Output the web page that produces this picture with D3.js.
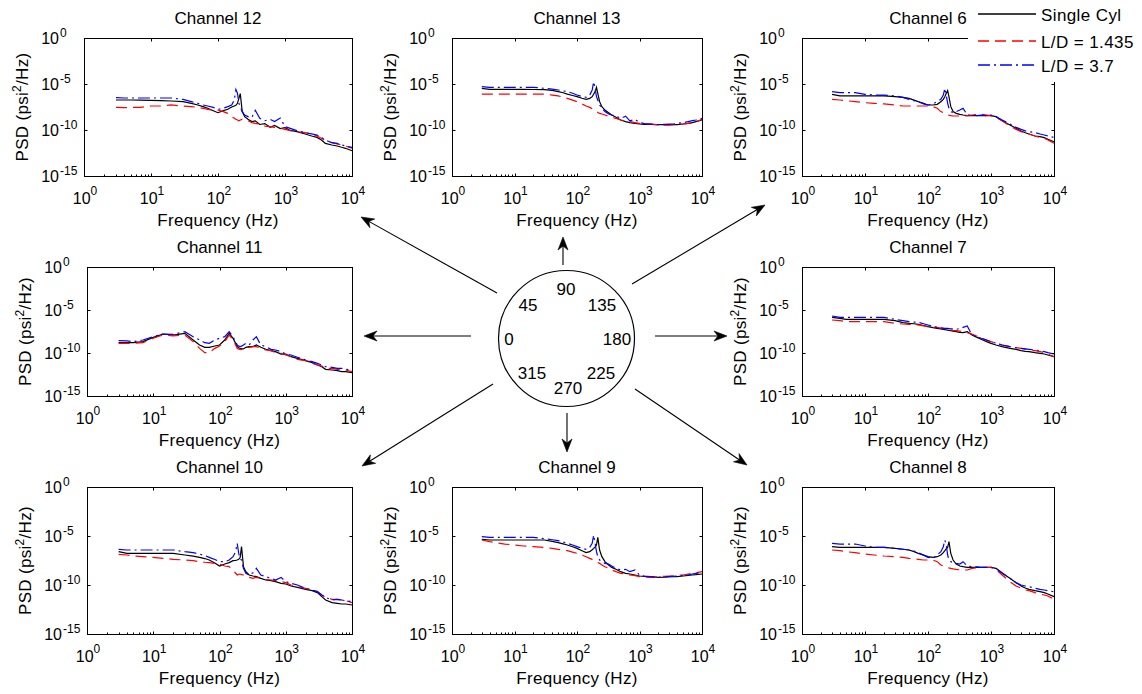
<!DOCTYPE html>
<html><head><meta charset="utf-8">
<script src="https://cdn.jsdelivr.net/npm/d3@7"></script>
<style>
body{margin:0;background:#fff}
svg{display:block}
text{font-family:"Liberation Sans",Arial,Helvetica,sans-serif;fill:#000}
</style>
</head><body>
<svg id="c" width="1142" height="694"></svg>
<script>
// ---------------- DATA ----------------
const freq = [3,4,5,7,10,14,20,30,40,50,60,70,85,100,120,140,160,175,185,195,205,215,230,250,280,320,360,420,500,600,700,850,1000,1200,1500,2000,2500,3000,3500,4000,5000,6000,7000,8000,10000];

const seriesNames = ["Single Cyl", "L/D = 1.435", "L/D = 3.7"];
const channelTitles = ["Channel 12","Channel 13","Channel 6","Channel 11","Channel 7","Channel 10","Channel 9","Channel 8"];
const xTickExps = [0,1,2,3,4];
const yTickExps = [0,-5,-10,-15];
const angleLabels = ["0","45","90","135","180","225","270","315"];
const xLabel = "Frequency (Hz)";

// log10(PSD) values at freq
const ch12_single = [-6.74,-6.74,-6.74,-6.76,-6.78,-6.8,-6.85,-6.92,-7.1,-7.28,-7.46,-7.64,-7.9,-8.12,-7.9,-7.75,-7.5,-7.39,-7.32,-7.1,-6.56,-6.05,-8.0,-8.55,-8.84,-9.09,-9.0,-9.4,-9.3,-9.7,-9.5,-9.85,-9.75,-10.05,-10.18,-10.43,-10.65,-10.8,-11.09,-11.45,-11.63,-11.74,-11.88,-11.99,-12.25];
const ch12_ld1435 = [-7.54,-7.57,-7.54,-7.54,-7.39,-7.39,-7.28,-7.39,-7.46,-7.54,-7.64,-7.75,-7.83,-7.83,-8.0,-8.19,-8.55,-8.73,-8.84,-8.91,-8.99,-8.91,-8.84,-8.91,-8.99,-9.2,-9.28,-9.35,-9.57,-9.64,-9.71,-9.82,-9.93,-10.07,-10.18,-10.29,-10.43,-10.65,-10.9,-11.16,-11.38,-11.52,-11.63,-11.74,-11.99];
const ch12_ld37 = [-6.49,-6.52,-6.52,-6.52,-6.52,-6.52,-6.52,-6.67,-6.92,-7.1,-7.28,-7.39,-7.54,-7.75,-7.64,-7.46,-7.28,-6.74,-5.6,-6.0,-7.1,-7.46,-8.0,-8.37,-8.55,-8.65,-7.85,-8.73,-8.99,-8.84,-9.09,-8.7,-9.64,-9.82,-10.07,-10.29,-10.43,-10.54,-10.8,-11.09,-11.38,-11.45,-11.63,-11.74,-11.88];

const ch13_single = [-5.47,-5.58,-5.58,-5.58,-5.58,-5.58,-5.6,-5.62,-5.7,-5.83,-5.95,-6.1,-6.25,-6.38,-6.55,-6.67,-6.56,-6.38,-6.09,-5.83,-5.36,-6.01,-6.92,-7.46,-7.83,-8.12,-8.37,-8.62,-8.91,-9.09,-9.2,-9.28,-9.35,-9.38,-9.38,-9.42,-9.42,-9.42,-9.42,-9.42,-9.35,-9.28,-9.2,-9.09,-8.91];
const ch13_ld1435 = [-6.09,-6.09,-6.09,-6.09,-6.09,-6.09,-6.09,-6.09,-6.2,-6.3,-6.42,-6.56,-6.75,-6.92,-7.17,-7.39,-7.54,-7.7,-7.83,-7.9,-8.0,-8.1,-8.19,-8.26,-8.37,-8.5,-8.62,-8.75,-8.91,-9.0,-9.09,-9.2,-9.28,-9.35,-9.35,-9.46,-9.46,-9.46,-9.42,-9.35,-9.35,-9.28,-9.2,-9.09,-8.84];
const ch13_ld37 = [-5.29,-5.36,-5.36,-5.36,-5.36,-5.36,-5.36,-5.47,-5.55,-5.65,-5.75,-5.83,-6.0,-6.2,-6.35,-6.45,-6.2,-5.65,-4.75,-5.47,-6.38,-6.74,-7.28,-7.64,-8.0,-8.26,-8.37,-8.48,-8.73,-8.5,-9.0,-8.84,-9.2,-9.3,-9.35,-9.42,-9.38,-9.35,-9.35,-9.28,-9.2,-9.09,-8.99,-8.91,-8.73];

const ch6_single = [-6.12,-6.3,-6.3,-6.3,-6.3,-6.3,-6.3,-6.38,-6.45,-6.56,-6.75,-6.92,-7.1,-7.28,-7.28,-7.21,-6.92,-6.67,-6.38,-6.01,-5.72,-6.38,-7.46,-8.0,-8.19,-8.3,-8.37,-8.44,-8.44,-8.44,-8.44,-8.44,-8.44,-8.55,-8.99,-9.46,-9.82,-10.11,-10.3,-10.43,-10.65,-10.72,-10.83,-11.01,-11.27];
const ch6_ld1435 = [-6.67,-6.74,-6.81,-6.92,-7.03,-7.1,-7.17,-7.28,-7.39,-7.39,-7.39,-7.39,-7.39,-7.39,-7.46,-7.64,-8.0,-8.12,-8.19,-8.26,-8.37,-8.4,-8.44,-8.48,-8.48,-8.48,-8.48,-8.44,-8.37,-8.3,-8.3,-8.37,-8.44,-8.62,-8.99,-9.57,-9.93,-10.18,-10.35,-10.43,-10.65,-10.8,-10.9,-11.09,-11.45];
const ch6_ld37 = [-5.83,-5.94,-5.94,-5.94,-6.12,-6.2,-6.2,-6.3,-6.45,-6.67,-6.8,-6.92,-7.17,-7.28,-7.17,-6.92,-6.67,-6.2,-5.47,-6.2,-7.1,-7.64,-8.0,-8.12,-8.0,-7.83,-7.64,-8.37,-8.37,-8.44,-8.37,-8.44,-8.37,-8.55,-8.91,-9.35,-9.71,-9.93,-10.1,-10.18,-10.29,-10.43,-10.54,-10.65,-10.8];

const ch11_single = [-8.8,-8.8,-8.8,-8.68,-8.18,-7.79,-7.91,-7.71,-8.49,-9.07,-9.34,-9.34,-9.19,-9.07,-8.49,-7.71,-8.29,-8.88,-9.26,-9.4,-9.46,-9.5,-9.53,-9.34,-9.26,-9.26,-9.07,-9.34,-9.57,-9.73,-9.84,-10.12,-10.12,-10.43,-10.62,-10.89,-11.12,-11.4,-11.59,-11.9,-11.98,-12.05,-12.17,-12.17,-12.29];
const ch11_ld1435 = [-8.88,-8.88,-8.88,-8.8,-8.29,-7.91,-8.02,-7.91,-8.68,-9.46,-9.96,-9.96,-9.46,-9.19,-8.68,-7.91,-8.49,-9.07,-9.46,-9.55,-9.57,-9.6,-9.65,-9.46,-9.34,-9.26,-9.26,-9.46,-9.65,-9.73,-9.96,-10.04,-10.23,-10.43,-10.74,-10.89,-11.2,-11.4,-11.51,-11.78,-11.78,-11.9,-11.9,-11.98,-12.17];
const ch11_ld37 = [-8.57,-8.6,-8.68,-8.49,-8.1,-7.79,-7.83,-7.52,-8.1,-8.49,-8.8,-8.88,-8.49,-8.29,-8.1,-7.52,-8.1,-8.68,-9.07,-9.2,-9.26,-9.2,-9.07,-8.88,-9.07,-8.49,-8.1,-9.07,-9.26,-9.57,-9.65,-9.84,-10.12,-10.23,-10.5,-10.81,-11.01,-11.2,-11.4,-11.59,-11.67,-11.78,-11.78,-11.9,-11.98];

const ch7_single = [-5.85,-5.97,-6.09,-6.09,-6.09,-6.09,-6.09,-6.24,-6.47,-6.55,-6.6,-6.67,-6.8,-6.94,-7.05,-7.13,-7.2,-7.25,-7.28,-7.3,-7.33,-7.36,-7.4,-7.45,-7.52,-7.6,-7.64,-7.52,-7.91,-8.18,-8.41,-8.68,-8.88,-9.07,-9.26,-9.46,-9.57,-9.73,-9.8,-9.84,-9.96,-10.04,-10.12,-10.23,-10.43];
const ch7_ld1435 = [-6.16,-6.24,-6.36,-6.36,-6.36,-6.36,-6.36,-6.55,-6.63,-6.67,-6.7,-6.74,-6.84,-6.94,-7.0,-7.02,-7.1,-7.15,-7.2,-7.22,-7.25,-7.28,-7.32,-7.36,-7.4,-7.46,-7.52,-7.65,-7.79,-8.05,-8.29,-8.5,-8.68,-8.88,-9.07,-9.26,-9.38,-9.46,-9.55,-9.65,-9.73,-9.84,-9.96,-10.12,-10.43];
const ch7_ld37 = [-5.7,-5.85,-5.85,-5.85,-5.85,-5.85,-5.85,-6.09,-6.24,-6.36,-6.4,-6.43,-6.6,-6.74,-6.9,-7.02,-7.08,-7.1,-7.13,-7.13,-7.13,-7.15,-7.18,-7.2,-7.25,-7.15,-7.02,-6.86,-7.91,-8.1,-8.29,-8.49,-8.68,-8.85,-9.07,-9.26,-9.38,-9.46,-9.52,-9.57,-9.65,-9.73,-9.84,-9.96,-10.12];

const ch10_single = [-6.6,-6.77,-6.77,-6.77,-6.77,-6.77,-6.77,-6.94,-7.05,-7.18,-7.3,-7.45,-7.75,-8.06,-7.86,-7.72,-7.52,-7.48,-7.45,-7.38,-7.2,-6.09,-8.13,-8.64,-8.98,-9.08,-9.15,-9.32,-9.49,-9.56,-9.66,-9.83,-9.9,-10.1,-10.24,-10.44,-10.58,-10.78,-11.19,-11.53,-11.8,-11.87,-11.94,-11.94,-12.04];
const ch10_ld1435 = [-6.87,-6.94,-7.04,-7.11,-7.18,-7.28,-7.38,-7.45,-7.52,-7.62,-7.68,-7.72,-7.8,-7.86,-8.06,-8.13,-8.47,-8.8,-8.98,-8.9,-8.88,-8.95,-8.98,-9.15,-9.22,-9.32,-9.22,-9.32,-9.42,-9.49,-9.56,-9.66,-9.76,-10.0,-10.17,-10.34,-10.51,-10.68,-11.02,-11.26,-11.46,-11.46,-11.53,-11.6,-11.8];
const ch10_ld37 = [-6.36,-6.43,-6.43,-6.43,-6.43,-6.43,-6.43,-6.6,-6.7,-6.84,-7.0,-7.18,-7.4,-7.62,-7.62,-7.45,-7.11,-6.6,-5.75,-6.77,-7.3,-7.45,-8.3,-8.81,-8.98,-8.75,-8.3,-8.98,-9.15,-9.32,-9.49,-9.22,-9.66,-9.83,-10.0,-10.34,-10.51,-10.68,-11.02,-11.26,-11.53,-11.46,-11.53,-11.6,-11.7];

const ch9_single = [-5.34,-5.41,-5.41,-5.41,-5.41,-5.41,-5.41,-5.41,-5.55,-5.68,-5.8,-5.92,-6.1,-6.26,-6.5,-6.7,-6.6,-6.4,-6.26,-6.1,-5.92,-5.14,-6.43,-7.11,-7.62,-7.96,-8.2,-8.4,-8.64,-8.81,-8.88,-8.98,-9.08,-9.12,-9.15,-9.22,-9.2,-9.15,-9.15,-9.15,-9.08,-9.01,-8.98,-8.95,-8.88];
const ch9_ld1435 = [-5.41,-5.58,-5.68,-5.82,-5.92,-6.02,-6.09,-6.16,-6.26,-6.36,-6.43,-6.5,-6.65,-6.77,-6.94,-7.11,-7.28,-7.38,-7.45,-7.52,-7.62,-7.7,-7.79,-7.96,-8.13,-8.3,-8.47,-8.64,-8.81,-8.88,-8.98,-9.05,-9.15,-9.2,-9.22,-9.15,-9.12,-9.08,-9.05,-8.98,-8.98,-8.88,-8.81,-8.74,-8.64];
const ch9_ld37 = [-5.07,-5.14,-5.14,-5.14,-5.14,-5.14,-5.14,-5.27,-5.38,-5.48,-5.62,-5.75,-5.92,-6.09,-6.25,-6.36,-6.16,-5.75,-4.9,-5.75,-6.6,-7.11,-7.45,-7.62,-7.79,-7.86,-8.06,-8.3,-8.47,-8.4,-8.64,-8.47,-8.98,-9.1,-9.15,-9.22,-9.18,-9.15,-9.12,-9.08,-9.01,-8.98,-8.88,-8.81,-8.74];

const ch8_single = [-6.09,-6.16,-6.16,-6.16,-6.16,-6.16,-6.16,-6.26,-6.35,-6.43,-6.6,-6.77,-6.95,-7.11,-7.18,-7.11,-6.94,-6.7,-6.5,-6.3,-6.16,-5.58,-6.77,-7.45,-7.86,-8.06,-8.13,-8.2,-8.2,-8.2,-8.2,-8.2,-8.2,-8.3,-8.81,-9.32,-9.76,-10.1,-10.3,-10.44,-10.58,-10.68,-10.78,-10.92,-11.19];
const ch8_ld1435 = [-6.43,-6.5,-6.6,-6.7,-6.84,-6.94,-7.04,-7.11,-7.18,-7.28,-7.33,-7.38,-7.45,-7.45,-7.45,-7.62,-7.96,-8.06,-8.13,-8.17,-8.2,-8.25,-8.3,-8.35,-8.4,-8.45,-8.47,-8.47,-8.3,-8.25,-8.2,-8.2,-8.2,-8.4,-8.98,-9.66,-10.1,-10.34,-10.5,-10.58,-10.78,-10.92,-11.02,-11.12,-11.46];
const ch8_ld37 = [-5.75,-5.82,-5.82,-5.82,-6.02,-6.16,-6.16,-6.26,-6.35,-6.43,-6.55,-6.7,-6.95,-7.18,-7.28,-6.94,-6.6,-6.09,-5.41,-5.92,-6.94,-7.45,-7.62,-7.72,-7.79,-7.86,-7.62,-8.06,-8.13,-8.15,-8.2,-8.2,-8.2,-8.3,-8.74,-9.32,-9.76,-10.0,-10.1,-10.17,-10.34,-10.44,-10.51,-10.58,-10.68];

// ---------------- LAYOUT ----------------
const panels = [
  {title: channelTitles[0], series: [ch12_single, ch12_ld1435, ch12_ld37], box: [84, 38, 352, 176]},
  {title: channelTitles[1], series: [ch13_single, ch13_ld1435, ch13_ld37], box: [452, 38, 702, 176]},
  {title: channelTitles[2], series: [ch6_single,  ch6_ld1435,  ch6_ld37],  box: [802, 38, 1054, 176]},
  {title: channelTitles[3], series: [ch11_single, ch11_ld1435, ch11_ld37], box: [87, 267, 352, 396]},
  {title: channelTitles[4], series: [ch7_single,  ch7_ld1435,  ch7_ld37],  box: [802, 267, 1054, 396]},
  {title: channelTitles[5], series: [ch10_single, ch10_ld1435, ch10_ld37], box: [87, 487, 352, 634]},
  {title: channelTitles[6], series: [ch9_single,  ch9_ld1435,  ch9_ld37],  box: [452, 487, 702, 634]},
  {title: channelTitles[7], series: [ch8_single,  ch8_ld1435,  ch8_ld37],  box: [802, 487, 1054, 634]}
];
const colors = ["#000000", "#ff0000", "#0000ff"];
const dashes = [null, "11,6", "12,4,2,4"];
const FONT = 17, TICKFONT = 16, SUPFONT = 12;

const svg = d3.select("#c");

panels.forEach(p => {
  const [L, T, R, B] = p.box;
  const x = d3.scaleLog().domain([1, 1e4]).range([L, R]);
  const y = d3.scaleLog().domain([1e-15, 1]).range([B, T]);
  const g = svg.append("g");

  // data lines
  p.series.forEach((s, i) => {
    const pts = freq.map((f, k) => ({f: f, v: Math.pow(10, s[k])}));
    g.append("path").datum(pts)
      .attr("d", d3.line().x(d => x(d.f)).y(d => y(d.v)))
      .attr("fill", "none")
      .attr("stroke", colors[i])
      .attr("stroke-width", 1.2)
      .attr("stroke-dasharray", dashes[i]);
  });

  // box
  g.append("rect")
    .attr("x", L + 0.5).attr("y", T + 0.5)
    .attr("width", R - L).attr("height", B - T)
    .attr("fill", "none").attr("stroke", "#000").attr("stroke-width", 1);

  // x ticks
  x.ticks().forEach(t => {
    const lgv = Math.log10(t);
    const major = Math.abs(lgv - Math.round(lgv)) < 1e-9;
    const px = Math.round(x(t)) + 0.5;
    if (px <= L + 1 || px >= R) return;
    g.append("line").attr("x1", px).attr("x2", px)
      .attr("y1", B + 0.5).attr("y2", B + 0.5 - (major ? 3 : 2))
      .attr("stroke", "#000").attr("stroke-width", 1);
    if (major) {
      g.append("line").attr("x1", px).attr("x2", px)
        .attr("y1", T + 0.5).attr("y2", T + 0.5 + 3)
        .attr("stroke", "#000").attr("stroke-width", 1);
    }
  });
  // y ticks
  yTickExps.forEach(e => {
    const py = Math.round(y(Math.pow(10, e))) + 0.5;
    if (py <= T + 1 || py >= B) return;
    g.append("line").attr("x1", L + 0.5).attr("x2", L + 3.5).attr("y1", py).attr("y2", py)
      .attr("stroke", "#000");
    g.append("line").attr("x1", R + 0.5).attr("x2", R - 2.5).attr("y1", py).attr("y2", py)
      .attr("stroke", "#000");
  });

  // x tick labels
  xTickExps.forEach(e => {
    const t = g.append("text")
      .attr("x", x(Math.pow(10, e)) + 1)
      .attr("y", B + 28)
      .attr("text-anchor", "middle")
      .attr("font-size", TICKFONT);
    t.append("tspan").text("10");
    t.append("tspan").attr("dy", -9).attr("font-size", SUPFONT).text(e);
  });
  // y tick labels
  yTickExps.forEach(e => {
    const py = y(Math.pow(10, e));
    g.append("text").attr("x", L - 25).attr("y", py + 6)
      .attr("text-anchor", "end").attr("font-size", TICKFONT).text("10");
    g.append("text").attr("x", L - 24).attr("y", py - 1.5)
      .attr("text-anchor", "start").attr("font-size", SUPFONT).text(e);
  });

  // title
  g.append("text").attr("x", (L + R) / 2).attr("y", T - 14)
    .attr("text-anchor", "middle").attr("font-size", FONT).text(p.title);
  // x label
  g.append("text").attr("x", (L + R) / 2).attr("y", B + 50)
    .attr("text-anchor", "middle").attr("font-size", FONT)
    .attr("letter-spacing", 0.3).text(xLabel);
  // y label
  const yl = g.append("text")
    .attr("transform", `translate(${L - 56},${(T + B) / 2}) rotate(-90)`)
    .attr("text-anchor", "middle").attr("font-size", FONT).attr("letter-spacing", 0.3);
  yl.append("tspan").text("PSD (psi");
  yl.append("tspan").attr("dy", -7).attr("font-size", SUPFONT).text("2");
  yl.append("tspan").attr("dy", 7).text("/Hz)");
});

// ---------------- CENTRAL DIAGRAM ----------------
const cx = 566.5, cy = 338.5, cr = 68;
svg.append("circle").attr("cx", cx).attr("cy", cy).attr("r", cr)
  .attr("fill", "none").attr("stroke", "#000").attr("stroke-width", 1.2);

const labelPos = [[509, 339], [528, 305], [566, 289], [602, 305], [617, 339], [601, 373], [568, 388], [532, 373]];
angleLabels.forEach((a, i) => {
  svg.append("text").attr("x", labelPos[i][0]).attr("y", labelPos[i][1] + 6)
    .attr("text-anchor", "middle").attr("font-size", FONT).text(a);
});

const arrows = [
  [497, 293, 361, 217],
  [563, 265, 563, 237],
  [632, 284, 765, 205],
  [471, 336, 364, 336],
  [655, 336, 727, 336],
  [493, 384, 362, 466],
  [567, 413, 567, 452],
  [635, 389, 747, 465]
];
arrows.forEach(([x1, y1, x2, y2]) => {
  const dx = x2 - x1, dy = y2 - y1, len = Math.hypot(dx, dy);
  const ux = dx / len, uy = dy / len, nx = -uy, ny = ux;
  const hl = 13, hw = 5, notch = 9;
  svg.append("line").attr("x1", x1).attr("y1", y1)
    .attr("x2", x2 - ux * notch).attr("y2", y2 - uy * notch)
    .attr("stroke", "#000").attr("stroke-width", 1.1);
  const pts = [
    [x2, y2],
    [x2 - ux * hl + nx * hw, y2 - uy * hl + ny * hw],
    [x2 - ux * notch, y2 - uy * notch],
    [x2 - ux * hl - nx * hw, y2 - uy * hl - ny * hw]
  ];
  svg.append("path").attr("d", "M" + pts.map(q => q.join(",")).join("L") + "Z")
    .attr("fill", "#000").attr("stroke", "#000").attr("stroke-width", 0.6);
});

// ---------------- LEGEND ----------------
const legend = svg.append("g");
legend.append("rect").attr("x", 968).attr("y", 0).attr("width", 174).attr("height", 82).attr("fill", "#fff");
const legY = [14, 41, 65];
seriesNames.forEach((n, i) => {
  legend.append("line").attr("x1", 978).attr("x2", 1036).attr("y1", legY[i]).attr("y2", legY[i])
    .style("stroke", colors[i]).attr("stroke-width", 1.4).attr("stroke-dasharray", dashes[i]);
  legend.append("text").attr("x", 1041).attr("y", legY[i] + 6.5)
    .attr("font-size", FONT).attr("letter-spacing", 0.4).text(n);
});
</script>
</body></html>
